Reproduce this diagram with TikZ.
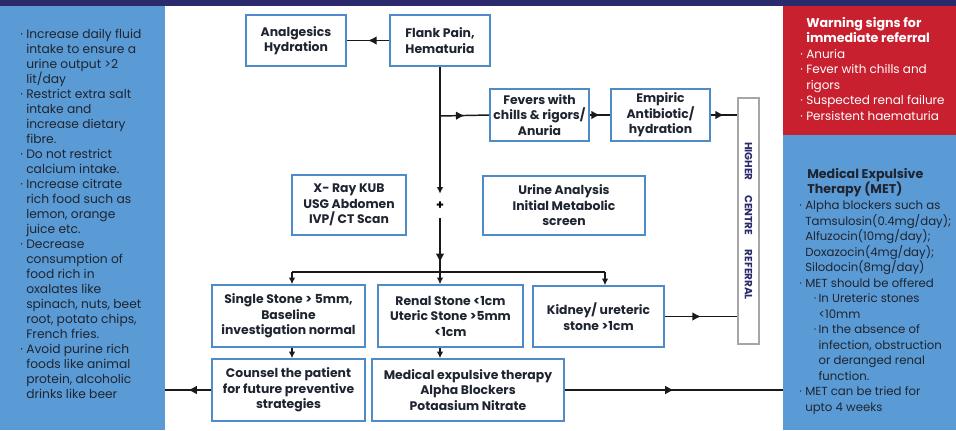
\documentclass[tikz,border=0pt]{standalone}
\usepackage{fontspec}
\setmainfont{Poppins}
\usetikzlibrary{arrows.meta,decorations.markings}

\definecolor{topnavy}{HTML}{2A2A6C}
\definecolor{panelblue}{HTML}{5B9BD5}
\definecolor{warnred}{HTML}{C8202F}
\definecolor{boxblue}{HTML}{4F8AC9}
\definecolor{bargray}{HTML}{A6A6A6}
\definecolor{inkdark}{HTML}{1E2430}

\newcommand{\bl}{\makebox[4.5pt][l]{·}}
\newcommand{\ind}{\hspace*{4.5pt}}
\newcommand{\subbl}{\hspace*{11pt}\makebox[3.5pt][l]{·}}
\newcommand{\subind}{\hspace*{14.5pt}}

\tikzset{
	stepbox/.style={draw=boxblue, line width=1.2pt, fill=white, align=center, inner sep=0pt,
		text=inkdark, font=\bfseries\fontsize{9.3}{11.6}\selectfont},
	link/.style={line width=1.1pt, draw=black!90},
	endarrow/.style={link, -{Latex[length=5pt,width=5pt]}},
	midarrow/.style={link, postaction={decorate},
		decoration={markings, mark=at position 0.5 with {\arrow{Latex[length=6.5pt,width=6.5pt]}}}},
	lowarrow/.style={link, postaction={decorate},
		decoration={markings, mark=at position 0.82 with {\arrow{Latex[length=6.5pt,width=6.5pt]}}}},
	paneltext/.style={anchor=north west, align=left, inner sep=0pt, font=\fontsize{9.2}{11.25}\selectfont}
}

\begin{document}
\begin{tikzpicture}[x=0.75pt,y=-0.75pt]
	\useasboundingbox (0,0) rectangle (956,430);
	\clip (0,0) rectangle (956,430);

	% side panels
	\fill[panelblue] (0,6) rectangle (165,430);
	\fill[warnred] (783,6) rectangle (956,135);
	\fill[panelblue] (783,135) rectangle (956,430);
	\fill[topnavy] (0,0) rectangle (956,6);

	\node[paneltext, text=inkdark] (diet) at (20,28.5) {%
		\bl Increase daily fluid\\ \ind intake to ensure a\\ \ind urine output >2\\ \ind lit/day\\
		\bl Restrict extra salt\\ \ind intake and\\ \ind increase dietary\\ \ind fibre.\\
		\bl Do not restrict\\ \ind calcium intake.\\
		\bl Increase citrate\\ \ind rich food such as\\ \ind lemon, orange\\ \ind juice etc.\\
		\bl Decrease\\ \ind consumption of\\ \ind food rich in\\ \ind oxalates like\\
		\ind spinach, nuts, beet\\ \ind root, potato chips,\\ \ind French fries.\\
		\bl Avoid purine rich\\ \ind foods like animal\\ \ind protein, alcoholic\\ \ind drinks like beer};

	\node[paneltext, text=white, font=\fontsize{9}{11.6}\selectfont] (warn) at (800,17) {%
		\ind\textbf{\fontsize{9.5}{11.6}\selectfont Warning signs for}\\
		\ind\textbf{\fontsize{9.5}{11.6}\selectfont immediate referral}\\
		\bl Anuria\\ \bl Fever with chills and\\ \ind rigors\\
		\bl Suspected renal failure\\ \bl Persistent haematuria};

	\node[paneltext, text=inkdark, font=\fontsize{8.8}{11.65}\selectfont] (metinfo) at (799,168) {%
		\hspace*{6pt}\textbf{\fontsize{9.5}{11.65}\selectfont Medical Expulsive}\\
		\hspace*{6pt}\textbf{\fontsize{9.5}{11.65}\selectfont Therapy (MET)}\\
		\bl Alpha blockers such as\\ \ind Tamsulosin(0.4mg/day);\\ \ind Alfuzocin(10mg/day);\\
		\ind Doxazocin(4mg/day);\\ \ind Silodocin(8mg/day)\\
		\bl MET should be offered\\
		\subbl In Ureteric stones\\ \subind <10mm\\
		\subbl In the absence of\\ \subind infection, obstruction\\ \subind or deranged renal\\ \subind function.\\
		\bl MET can be tried for\\ \ind upto 4 weeks};

	% flow boxes
	\node[stepbox, minimum width=75pt, minimum height=38.25pt] (analg) at (296,40.5) {Analgesics\\Hydration};
	\node[stepbox, minimum width=75pt, minimum height=38.25pt] (flank) at (440,40.5) {Flank Pain,\\Hematuria};
	\node[stepbox, minimum width=74.25pt, minimum height=39pt] (fevers) at (539.5,115) {Fevers with\\chills \& rigors/\\Anuria};
	\node[stepbox, minimum width=74.25pt, minimum height=39pt] (empiric) at (660.5,115) {Empiric\\Antibiotic/\\hydration};
	\node[draw=bargray, line width=1.2pt, fill=white, rotate=-90, minimum width=184.5pt, minimum height=15.75pt,
		inner sep=0pt, text=topnavy, font=\bfseries\fontsize{7.8}{8}\selectfont]
		(hcr) at (748.5,221) {HIGHER\hspace{11pt}CENTRE\hspace{11pt}REFERRAL};
	\node[stepbox, minimum width=85.5pt, minimum height=45pt] (xray) at (349,205) {X- Ray KUB\\USG Abdomen\\IVP/ CT Scan};
	\node[stepbox, minimum width=121.5pt, minimum height=44.25pt] (urine) at (564,205.5) {Urine Analysis\\Initial Metabolic\\screen};
	\node[font=\bfseries\fontsize{9.5}{10}\selectfont, inner sep=0pt, minimum height=18pt] (plus) at (440,206) {+};
	\node[stepbox, minimum width=114.75pt, minimum height=46.5pt] (single) at (288.5,316) {Single Stone > 5mm,\\Baseline\\investigation normal};
	\node[stepbox, minimum width=108.75pt, minimum height=46.5pt] (renal) at (450.5,316) {Renal Stone <1cm\\Uteric Stone >5mm\\<1cm};
	\node[stepbox, minimum width=98.25pt, minimum height=45.75pt] (kidney) at (598.5,316.5) {Kidney/ ureteric\\stone >1cm};
	\node[stepbox, minimum width=114.75pt, minimum height=46.5pt] (counsel) at (288.5,390) {Counsel the patient\\for future preventive\\strategies};
	\node[stepbox, minimum width=144pt, minimum height=46.5pt] (met) at (468,390) {Medical expulsive therapy\\Alpha Blockers\\Potaasium Nitrate};

	\coordinate (fork) at (440,116);
	\coordinate (split) at (440,272);
	\coordinate (sL) at (292,272);
	\coordinate (sR) at (605,272);
	\coordinate (leftedge) at (165,392);
	\coordinate (rightedge) at (783,390);

	% connectors
	\draw[midarrow] (flank.west) -- (analg.east);
	\draw[link] (flank.south) -- (fork);
	\draw[midarrow] (fork) -- (fevers.west);
	\draw[midarrow] (fevers.east) -- (empiric.west);
	\draw[midarrow] (empiric.east) -- (empiric.east -| hcr.south);
	\draw[endarrow] (fork) -- (plus.north);
	\draw[lowarrow] (plus.south) -- (split);
	\draw[link] (sL) -- (sR);
	\draw[endarrow] (sL) -- (sL |- single.north);
	\draw[endarrow] (split) -- (split |- renal.north);
	\draw[endarrow] (sR) -- (sR |- kidney.north);
	\draw[endarrow] (sL |- single.south) -- (sL |- counsel.north);
	\draw[endarrow] (split |- renal.south) -- (split |- met.north);
	\draw[midarrow] (kidney.east) -- (kidney.east -| hcr.south);
	\draw[midarrow] (counsel.west) -- (counsel.west -| leftedge);
	\draw[midarrow] (met.east) -- (met.east -| rightedge);
\end{tikzpicture}
\end{document}
